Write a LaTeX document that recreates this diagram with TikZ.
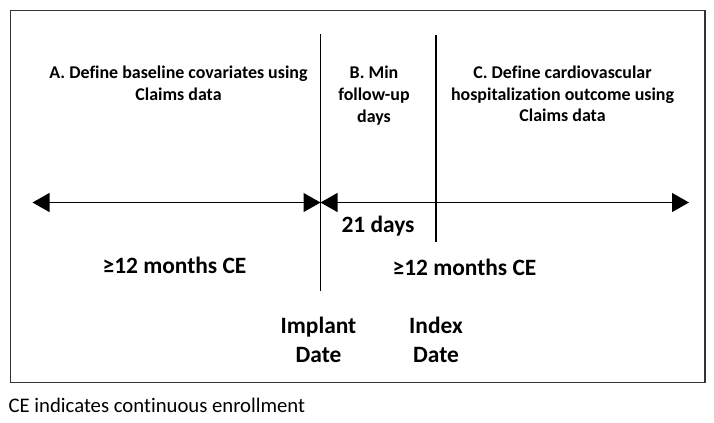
\documentclass[tikz,border=0pt]{standalone}
\usepackage{fontspec}
\setmainfont[Ligatures=NoCommon]{Carlito}
\usepackage{tikz}
\usetikzlibrary{positioning, arrows.meta}

\tikzset{
	phase/.style={align=center, anchor=north, inner sep=0pt, font=\fontsize{18}{21.7}\selectfont\bfseries},
	spanlabel/.style={anchor=base, inner sep=0pt, font=\fontsize{23.5}{29}\selectfont\bfseries},
	datelabel/.style={align=center, anchor=north, inner sep=0pt, font=\fontsize{23.5}{29.4}\selectfont\bfseries},
	marker/.style={line width=1.2bp}
}

\begin{document}
\begin{tikzpicture}[x=1bp, y=-1bp, >={Triangle[length=17bp, width=19bp]}, line width=1.2bp]
	
	\useasboundingbox (0,0) rectangle (714,422);
	
	% Frame and note
	\node [draw=black!80, line width=1.5bp, rectangle, minimum width=694.5bp, minimum height=372bp, inner sep=0pt, anchor=north west] (frame) at (9.5,9.5) {};
	\node [anchor=base west, inner sep=0pt, font=\fontsize{20.8}{25}\selectfont] (note) at (8,412) {CE indicates continuous enrollment};
	
	% Define coordinates on the time line
	\coordinate (start) at (32.5,202.5);
	\coordinate (implant) at (320.5,202.5);
	\coordinate (stop) at (689,202.5);
	\coordinate (implanttop) at (320.5,34);
	\coordinate (implantbot) at (320.5,291);
	\coordinate (indextop) at (436,35);
	\coordinate (indexbot) at (436,242);
	
	% Define nodes
	\node [phase] (baseline) at (178.5,65.2) {A. Define baseline covariates using\\Claims data};
	\node [phase] (minfollow) at (374,65.6) {B. Min\\follow-up\\days};
	\node [phase] (outcome) at (562.5,65.2) {C. Define cardiovascular\\hospitalization outcome using\\Claims data};
	\node [spanlabel] (gap) at (378,232) {21 days};
	\node [spanlabel] (before) at (174.5,273) {≥12 months CE};
	\node [spanlabel] (after) at (464.5,275) {≥12 months CE};
	\node [datelabel, below=25.5bp of implantbot, xshift=-2bp] (implantdate) {Implant\\Date};
	\node [datelabel] (indexdate) at (indexbot |- implantdate.north) {Index\\Date};
	
	% Date markers
	\draw[marker] (implanttop) -- (implantbot);
	\draw[marker] (indextop) -- (indexbot);
	
	% Time line arrows
	\draw[<->] (start) -- (implant);
	\draw[<->] (implant) -- (stop);
	
\end{tikzpicture}
\end{document}
